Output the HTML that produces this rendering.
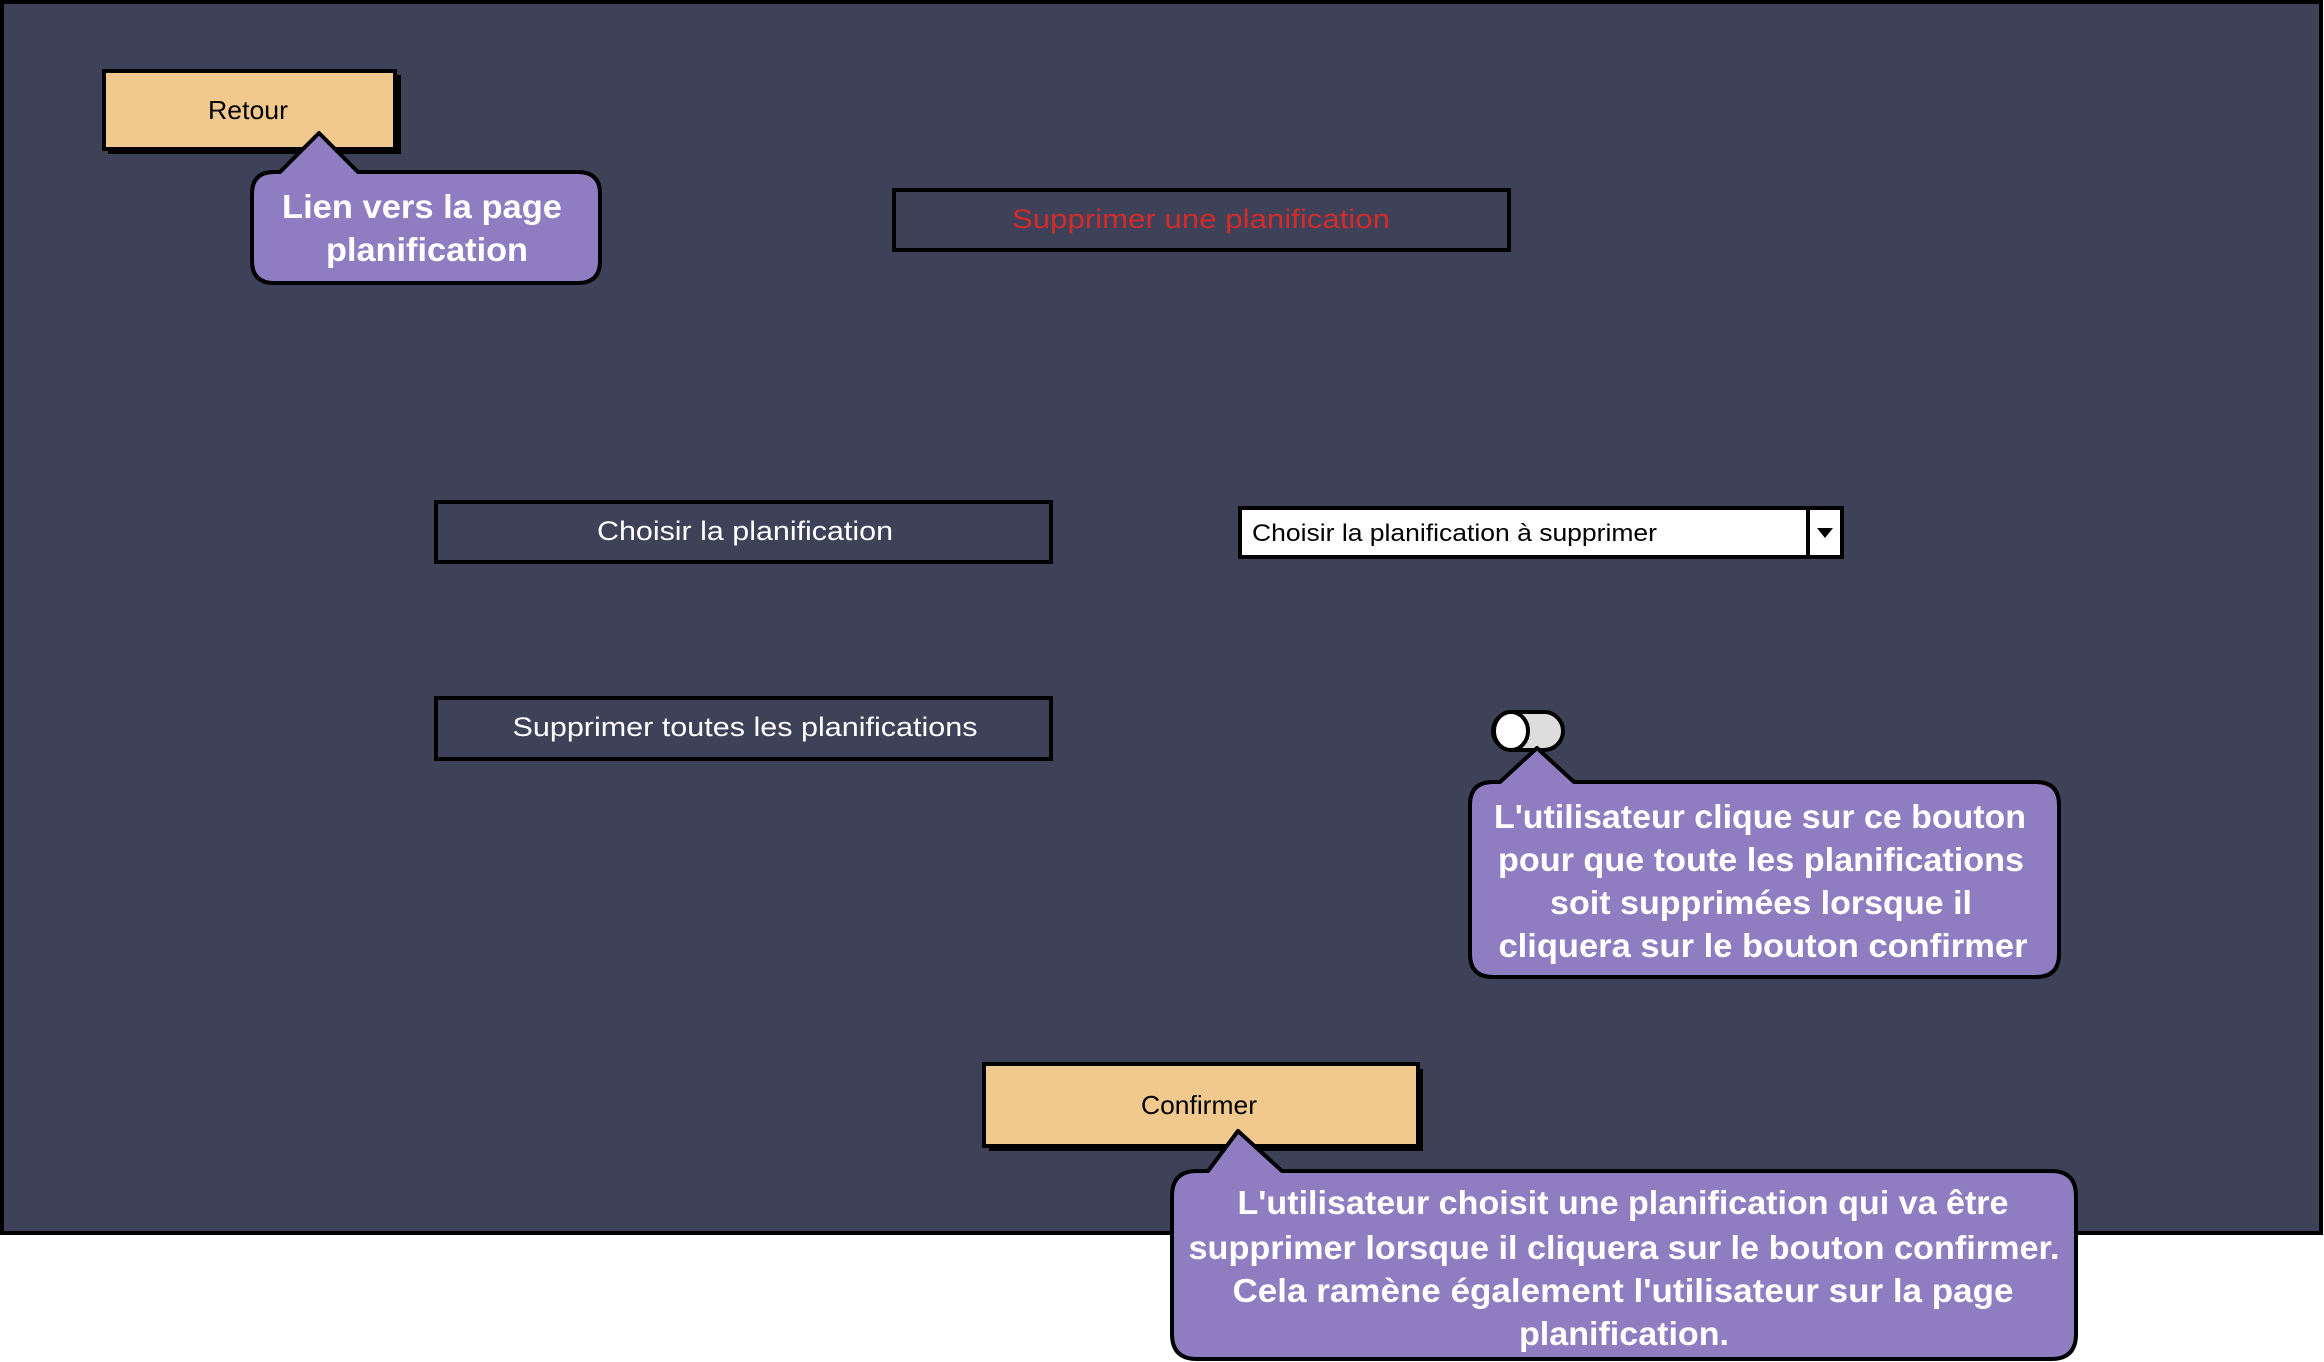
<!DOCTYPE html>
<html><head><meta charset="utf-8"><style>
html,body{margin:0;padding:0;background:#fff;}
svg{display:block;}
text{font-family:"Liberation Sans",sans-serif;}
</style></head><body>
<svg width="2324" height="1362" viewBox="0 0 2324 1362" xmlns="http://www.w3.org/2000/svg">
<rect x="0" y="0" width="2324" height="1362" fill="#fff"/>
<rect x="2" y="2" width="2319" height="1231" fill="#3d4259" stroke="#000" stroke-width="4"/>

<!-- Retour -->
<rect x="108" y="75" width="293" height="79" fill="#000"/>
<rect x="104" y="71" width="291" height="78" fill="#f1c98e" stroke="#000" stroke-width="4"/>
<text x="248" y="119" font-size="26" text-anchor="middle" fill="#000" textLength="80" lengthAdjust="spacingAndGlyphs">Retour</text>

<!-- Callout 1 -->
<path d="M280,172 L319,133 L358,172 L578,172 Q600,172 600,194 L600,261 Q600,283 578,283 L274,283 Q252,283 252,261 L252,194 Q252,172 274,172 Z" fill="#8e7dc0" stroke="#000" stroke-width="4" stroke-linejoin="round"/>
<text x="422" y="218" font-size="33" font-weight="bold" text-anchor="middle" fill="#fff" textLength="280" lengthAdjust="spacingAndGlyphs">Lien vers la page</text>
<text x="427" y="261" font-size="33" font-weight="bold" text-anchor="middle" fill="#fff" textLength="202" lengthAdjust="spacingAndGlyphs">planification</text>

<!-- Title -->
<rect x="894" y="190" width="615" height="60" fill="none" stroke="#000" stroke-width="4"/>
<text x="1201" y="228" font-size="27" text-anchor="middle" fill="#d42a2a" textLength="378" lengthAdjust="spacingAndGlyphs">Supprimer une planification</text>

<!-- Choisir -->
<rect x="436" y="502" width="615" height="60" fill="none" stroke="#000" stroke-width="4"/>
<text x="745" y="540" font-size="27" text-anchor="middle" fill="#fff" textLength="296" lengthAdjust="spacingAndGlyphs">Choisir la planification</text>

<!-- Supprimer toutes -->
<rect x="436" y="698" width="615" height="61" fill="none" stroke="#000" stroke-width="4"/>
<text x="745" y="736" font-size="27" text-anchor="middle" fill="#fff" textLength="465" lengthAdjust="spacingAndGlyphs">Supprimer toutes les planifications</text>

<!-- Dropdown -->
<rect x="1240" y="508" width="602" height="49" fill="#fff" stroke="#000" stroke-width="4"/>
<line x1="1808" y1="508" x2="1808" y2="557" stroke="#000" stroke-width="4"/>
<path d="M1817,528 L1833,528 L1825,538 Z" fill="#000"/>
<text x="1252" y="541" font-size="24" fill="#000" textLength="405" lengthAdjust="spacingAndGlyphs">Choisir la planification à supprimer</text>

<!-- Toggle -->
<rect x="1493" y="712" width="70" height="38" rx="19" fill="#ddd" stroke="#000" stroke-width="4"/>
<ellipse cx="1511" cy="731" rx="17" ry="19" fill="#fff" stroke="#000" stroke-width="4"/>

<!-- Callout 2 -->
<path d="M1500,782 L1537,748 L1574,782 L2036,782 Q2059,782 2059,805 L2059,954 Q2059,977 2036,977 L1493,977 Q1470,977 1470,954 L1470,805 Q1470,782 1493,782 Z" fill="#8e7dc0" stroke="#000" stroke-width="4" stroke-linejoin="round"/>
<g font-size="33" font-weight="bold" text-anchor="middle" fill="#fff">
<text x="1760" y="828" textLength="532" lengthAdjust="spacingAndGlyphs">L'utilisateur clique sur ce bouton</text>
<text x="1761" y="871" textLength="526" lengthAdjust="spacingAndGlyphs">pour que toute les planifications</text>
<text x="1761" y="914" textLength="422" lengthAdjust="spacingAndGlyphs">soit supprimées lorsque il</text>
<text x="1763" y="957" textLength="529" lengthAdjust="spacingAndGlyphs">cliquera sur le bouton confirmer</text>
</g>

<!-- Confirmer -->
<rect x="989" y="1069" width="434" height="82" fill="#000"/>
<rect x="984" y="1064" width="434" height="82" fill="#f1c98e" stroke="#000" stroke-width="4"/>
<text x="1199" y="1114" font-size="26" text-anchor="middle" fill="#000" textLength="116" lengthAdjust="spacingAndGlyphs">Confirmer</text>

<!-- Callout 3 -->
<path d="M1208,1171 L1238,1131 L1282,1171 L2051,1171 Q2076,1171 2076,1196 L2076,1334 Q2076,1359 2051,1359 L1197,1359 Q1172,1359 1172,1334 L1172,1196 Q1172,1171 1197,1171 Z" fill="#8e7dc0" stroke="#000" stroke-width="4" stroke-linejoin="round"/>
<g font-size="33" font-weight="bold" text-anchor="middle" fill="#fff">
<text x="1623" y="1214" textLength="771" lengthAdjust="spacingAndGlyphs">L'utilisateur choisit une planification qui va être</text>
<text x="1624" y="1259" textLength="871" lengthAdjust="spacingAndGlyphs">supprimer lorsque il cliquera sur le bouton confirmer.</text>
<text x="1623" y="1302" textLength="781" lengthAdjust="spacingAndGlyphs">Cela ramène également l'utilisateur sur la page</text>
<text x="1624" y="1345" textLength="210" lengthAdjust="spacingAndGlyphs">planification.</text>
</g>
</svg>
</body></html>
